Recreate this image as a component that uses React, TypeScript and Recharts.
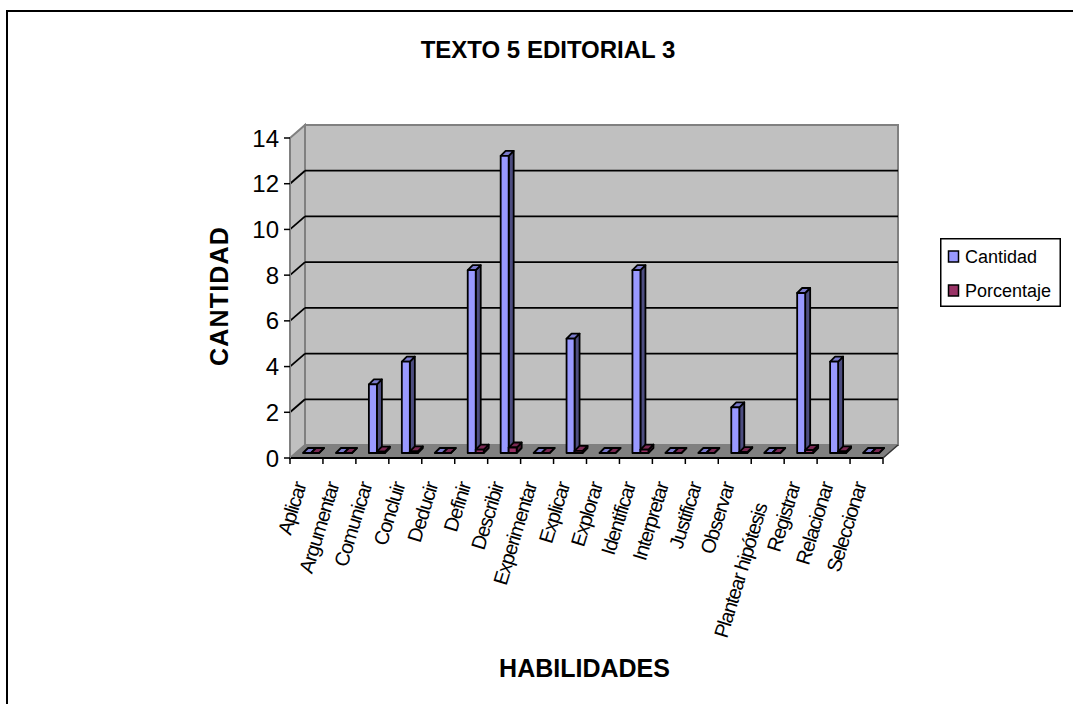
import React from 'react';
import { BarChart, Bar, XAxis, YAxis, CartesianGrid, Legend, Customized } from 'recharts';

const categories = ['Aplicar', 'Argumentar', 'Comunicar', 'Concluir', 'Deducir', 'Definir', 'Describir', 'Experimentar', 'Explicar', 'Explorar', 'Identificar', 'Interpretar', 'Justificar', 'Observar', 'Plantear hipótesis', 'Registrar', 'Relacionar', 'Seleccionar'];
const cantidad = [0, 0, 3, 4, 0, 8, 13, 0, 5, 0, 8, 0, 0, 2, 0, 7, 4, 0];
const porcentaje = [0, 0, 0.06, 0.07, 0, 0.15, 0.24, 0, 0.09, 0, 0.15, 0, 0, 0.04, 0, 0.13, 0.07, 0];
const yTicks = [0, 2, 4, 6, 8, 10, 12, 14];

const chartData = categories.map((name, i) => ({ name, Cantidad: cantidad[i], Porcentaje: porcentaje[i] }));

const FONT = '"Liberation Sans", Arial, sans-serif';
const WIDTH = 1073;
const HEIGHT = 704;
const PLOT = { left: 290, right: 883, top: 138, bottom: 458 };
// 3D look: how far the back wall sits from the front plane
const DEPTH_X = 15;
const DEPTH_Y = 13;
const BAR_DEPTH = 5;

// walls and floor behind the bars
function Walls() {
  const { left, right, top, bottom } = PLOT;
  const dx = DEPTH_X;
  const dy = DEPTH_Y;
  return (
    <g>
      <polygon points={`${left},${top} ${left + dx},${top - dy} ${left + dx},${bottom - dy} ${left},${bottom}`} fill="#C0C0C0" stroke="#808080" strokeWidth={2} />
      <rect x={left + dx} y={top - dy} width={right - left} height={bottom - top} fill="#C0C0C0" stroke="#808080" strokeWidth={2} />
      <polygon points={`${left},${bottom} ${right},${bottom} ${right + dx},${bottom - dy} ${left + dx},${bottom - dy}`} fill="#808080" />
      <line x1={right} y1={bottom} x2={right + dx} y2={bottom - dy} stroke="#333" strokeWidth={1.5} />
    </g>
  );
}

// gridline on the back wall plus the diagonal across the side wall
function wallGridLine(props: any) {
  const { x1, x2, y1 } = props;
  const atFloor = Math.abs(y1 - PLOT.bottom) < 1;
  const atTop = Math.abs(y1 - PLOT.top) < 1;
  if (atFloor || atTop) return <g key={`grid-${y1}`} />;
  return (
    <g key={`grid-${y1}`}>
      <line x1={x1 + DEPTH_X} x2={x2 + DEPTH_X} y1={y1 - DEPTH_Y} y2={y1 - DEPTH_Y} stroke="#000" strokeWidth={1.8} />
      <line x1={x1} x2={x1 + DEPTH_X} y1={y1} y2={y1 - DEPTH_Y} stroke="#000" strokeWidth={1.8} />
    </g>
  );
}

function Box3D(props: any) {
  const { x, y, width, height, front, side, topFace } = props;
  const d = BAR_DEPTH;
  const bx = x + d;
  const by = y - d;
  const h = Math.max(height, 0);
  return (
    <g stroke="#000" strokeWidth={1.8} strokeLinejoin="round">
      <polygon points={`${bx + width},${by} ${bx + width + d},${by - d} ${bx + width + d},${by + h - d} ${bx + width},${by + h}`} fill={side} />
      <polygon points={`${bx},${by} ${bx + d},${by - d} ${bx + width + d},${by - d} ${bx + width},${by}`} fill={topFace} />
      <rect x={bx} y={by} width={width} height={h} fill={front} />
    </g>
  );
}

function CategoryTick(props: any) {
  const { x, payload, index } = props;
  const band = (PLOT.right - PLOT.left) / categories.length;
  const y = PLOT.bottom;
  // the long label hangs lower in the original
  const drop = Math.max(0, String(payload.value).length - 12) * 3.5;
  return (
    <g>
      <line x1={x - band / 2} x2={x - band / 2} y1={y} y2={y + 6} stroke="#000" strokeWidth={1.5} />
      {index === categories.length - 1 && (
        <line x1={x + band / 2} x2={x + band / 2} y1={y} y2={y + 6} stroke="#000" strokeWidth={1.5} />
      )}
      <text
        transform={`translate(${x},${y + 27 + drop}) rotate(-73)`}
        textAnchor="end"
        fontFamily={FONT}
        fontSize={20}
        letterSpacing={-1.1}
        fill="#000"
      >
        {payload.value}
      </text>
    </g>
  );
}

function CantidadLabel() {
  return (
    <text
      transform="translate(228,296) rotate(-90)"
      textAnchor="middle"
      fontFamily={FONT}
      fontSize={25}
      fontWeight={700}
      letterSpacing={1.2}
      fill="#000"
    >
      CANTIDAD
    </text>
  );
}

function LegendBox() {
  const items = [
    { label: 'Cantidad', color: '#9999FF' },
    { label: 'Porcentaje', color: '#993366' },
  ];
  return (
    <svg width={121} height={69} style={{ display: 'block' }}>
      <rect x={0.75} y={0.75} width={119.5} height={67.5} fill="#fff" stroke="#000" strokeWidth={1.5} />
      {items.map((item, i) => (
        <g key={item.label}>
          <rect x={8.5} y={13 + i * 34} width={10} height={11} fill={item.color} stroke="#000" strokeWidth={1.5} />
          <text x={25} y={25 + i * 34} fontFamily={FONT} fontSize={18} fill="#000">{item.label}</text>
        </g>
      ))}
    </svg>
  );
}

export default function App() {
  return (
    <div style={{ position: 'absolute', left: 0, top: 0, width: WIDTH, height: HEIGHT, background: '#fff', overflow: 'hidden' }}>
      <div style={{ position: 'absolute', left: 6, top: 10, width: 1100, height: 720, borderTop: '2px solid #000', borderLeft: '2px solid #000' }} />
      <BarChart
        width={WIDTH}
        height={HEIGHT}
        data={chartData}
        margin={{ top: PLOT.top, right: WIDTH - PLOT.right, left: 0, bottom: 0 }}
        barSize={8}
        barGap={0}
        style={{ position: 'absolute', left: 0, top: 0 }}
      >
        <Customized component={Walls} />
        <CartesianGrid vertical={false} horizontal={wallGridLine} zIndex={1} />
        <XAxis
          dataKey="name"
          interval={0}
          height={HEIGHT - PLOT.bottom}
          tick={<CategoryTick />}
          tickLine={false}
          axisLine={{ stroke: '#000', strokeWidth: 2 }}
          label={{ value: 'HABILIDADES', position: 'insideBottom', offset: 27, dx: -2, fontFamily: FONT, fontSize: 25, fontWeight: 700, fill: '#000' }}
        />
        <YAxis
          width={PLOT.left}
          domain={[0, 14]}
          ticks={yTicks}
          interval={0}
          tickSize={6}
          tickMargin={5}
          tick={{ fontFamily: FONT, fontSize: 24, fill: '#000' }}
          tickLine={{ stroke: '#000', strokeWidth: 1.5 }}
          axisLine={{ stroke: '#808080', strokeWidth: 2 }}
          label={<CantidadLabel />}
        />
        <Legend layout="vertical" align="center" verticalAlign="middle" content={<LegendBox />} wrapperStyle={{ left: 940, top: 238, width: 121, height: 69 }} />
        <Bar dataKey="Cantidad" isAnimationActive={false} shape={<Box3D front="#9999FF" side="#4D4D80" topFace="#7A7ACC" />} />
        <Bar dataKey="Porcentaje" isAnimationActive={false} shape={<Box3D front="#993366" side="#4D1A33" topFace="#7A2952" />} />
        <text x={548} y={58} textAnchor="middle" fontFamily={FONT} fontSize={24} fontWeight={700} fill="#000">TEXTO 5 EDITORIAL 3</text>
      </BarChart>
    </div>
  );
}
